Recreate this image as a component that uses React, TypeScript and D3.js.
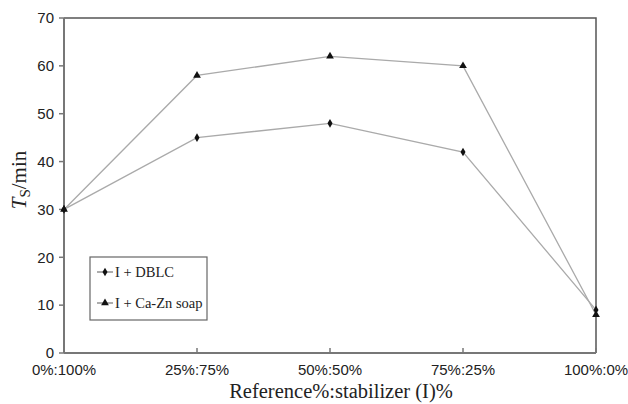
import React from 'react';
import * as d3 from 'd3';

const categories = ['0%:100%', '25%:75%', '50%:50%', '75%:25%', '100%:0%'];
const dblc = [30, 45, 48, 42, 9];
const caZn = [30, 58, 62, 60, 8];
const yTicks = [0, 10, 20, 30, 40, 50, 60, 70];

const W = 628, H = 404;
const m = { left: 64, right: 32, top: 18, bottom: 51 };

export default function App() {
  const x = d3.scalePoint<string>().domain(categories).range([m.left, W - m.right]);
  const y = d3.scaleLinear().domain([0, 70]).range([H - m.bottom, m.top]);
  const ln = d3.line<number>().x((_, i) => x(categories[i])!).y(d => y(d));
  const tri = d3.symbol().type(d3.symbolTriangle).size(26)()!;
  const dia = d3.symbol().type(d3.symbolDiamond).size(22)()!;
  const x0 = m.left, x1 = W - m.right, y0 = H - m.bottom, y1 = m.top;
  const sans = 'Liberation Sans, Arial';
  const serif = 'Liberation Serif, Times New Roman';

  return (
    <svg width={W} height={H} style={{ position: 'absolute', left: 0, top: 0, background: '#fff' }}>
      {/* frame */}
      <path d={`M${x0},${y1}H${x1}V${y0}`} fill="none" stroke="#555" strokeWidth={1.5} />
      <line x1={x0} x2={x0} y1={y1} y2={y0} stroke="#777" strokeWidth={2} />
      <line x1={x0} x2={x1} y1={y0} y2={y0} stroke="#777" strokeWidth={2} />
      {yTicks.map(t => (
        <g key={t}>
          <line x1={x0 - 5} x2={x0} y1={y(t)} y2={y(t)} stroke="#777" strokeWidth={1.5} />
          <text x={x0 - 10} y={y(t)} dy="0.35em" textAnchor="end" fontFamily={sans} fontSize={15} fill="#222">{t}</text>
        </g>
      ))}
      {categories.map(c => (
        <g key={c}>
          <line x1={x(c)} x2={x(c)} y1={y0} y2={y0 - 5} stroke="#777" strokeWidth={1.5} />
          <text x={x(c)} y={y0 + 22} textAnchor="middle" fontFamily={sans} fontSize={15} fill="#222">{c}</text>
        </g>
      ))}
      {/* series */}
      <path d={ln(dblc)!} fill="none" stroke="#aaa" strokeWidth={1.3} />
      <path d={ln(caZn)!} fill="none" stroke="#aaa" strokeWidth={1.3} />
      {dblc.map((v, i) => (
        <path key={'d' + i} d={dia} transform={`translate(${x(categories[i])},${y(v)})`} fill="#111" />
      ))}
      {caZn.map((v, i) => (
        <path key={'t' + i} d={tri} transform={`translate(${x(categories[i])},${y(v)})`} fill="#111" />
      ))}
      {/* legend */}
      <rect x={90} y={257} width={117} height={63} fill="#fff" stroke="#666" strokeWidth={1.2} />
      <line x1={97} x2={113} y1={272} y2={272} stroke="#777" strokeWidth={1.2} />
      <path d={dia} transform="translate(105,272)" fill="#111" />
      <text x={115} y={277} fontFamily={serif} fontSize={14.5} fill="#222">I + DBLC</text>
      <line x1={97} x2={113} y1={303} y2={303} stroke="#777" strokeWidth={1.2} />
      <path d={tri} transform="translate(105,303)" fill="#111" />
      <text x={115} y={308} fontFamily={serif} fontSize={14.5} fill="#222">I + Ca-Zn soap</text>
      {/* axis titles */}
      <text x={341} y={398} textAnchor="middle" fontFamily={serif} fontSize={20.5} fill="#222">Reference%:stabilizer (I)%</text>
      <text transform="translate(26,180) rotate(-90)" textAnchor="middle" fontFamily={serif} fontSize={21} fill="#222">
        <tspan fontStyle="italic">T</tspan>
        <tspan fontSize={15} dy={4}>S</tspan>
        <tspan dy={-4}>/min</tspan>
      </text>
    </svg>
  );
}
